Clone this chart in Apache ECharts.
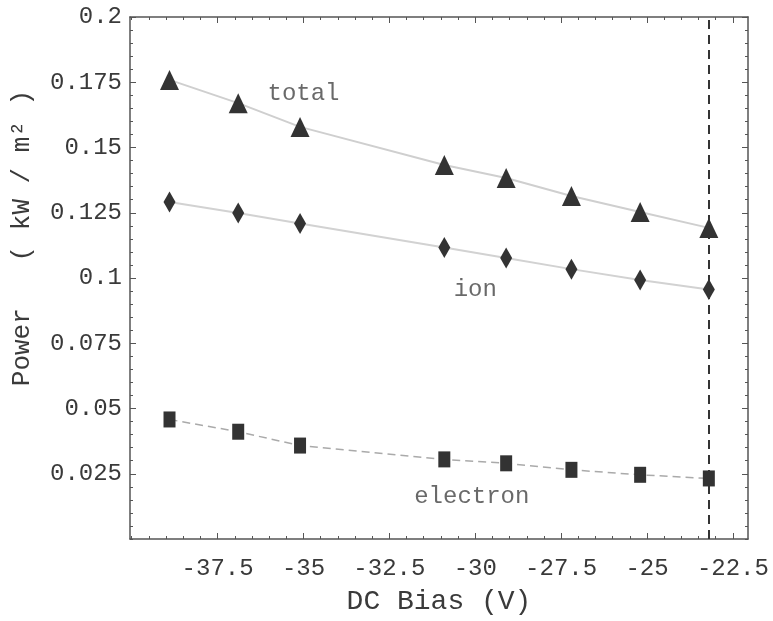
<!DOCTYPE html>
<html>
<head>
<meta charset="utf-8">
<title>Power vs DC Bias</title>
<script src="https://cdn.jsdelivr.net/npm/echarts@6/dist/echarts.min.js"></script>
<style>
  html, body { margin: 0; padding: 0; background: #fff; }
  #chart { width: 773px; height: 621px; }
</style>
</head>
<body>
<div id="chart"></div>
<script>
// DC bias (V) of each measurement
var biasValues = [-38.9, -36.9, -35.1, -30.9, -29.1, -27.2, -25.2, -23.2]
// power (kW/m^2)
var totalPower = [0.1759, 0.1670, 0.1579, 0.1433, 0.1383, 0.1314, 0.1253, 0.1192]
var ionPower = [0.1291, 0.1249, 0.1209, 0.1117, 0.1077, 0.1034, 0.0992, 0.0956]
var electronPower = [0.0458, 0.0411, 0.0358, 0.0305, 0.0290, 0.0265, 0.0246, 0.0232]

// axis ticks
var xTicks = [-37.5, -35, -32.5, -30, -27.5, -25, -22.5]
var yTicks = [0.025, 0.05, 0.075, 0.1, 0.125, 0.15, 0.175, 0.2]
var xMinorStep = 0.5
var yMinorStep = 0.005

// floating potential marker
var floatingBias = -23.2

// curve labels [x, y, text]
var curveLabels = [
  [-35.0, 0.1705, 'total'],
  [-30.0, 0.0954, 'ion'],
  [-30.1, 0.0163, 'electron']
]

var xMin = -40.05, xMax = -22.06
var yMin = 0, yMax = 0.2

function minorTicks(min, max, step, major) {
  var out = []
  var start = Math.ceil(min / step - 1e-9)
  var end = Math.floor(max / step + 1e-9)
  for (var i = start; i <= end; i++) {
    var v = +(i * step).toFixed(4)
    var isMajor = major.some(function (m) { return Math.abs(m - v) < 1e-9 })
    if (!isMajor) out.push(v)
  }
  return out
}

function pairs(ys) {
  return biasValues.map(function (x, i) { return [x, ys[i]] })
}

var FONT = 'Liberation Mono'
var INK = '#3a3a3a'
var FRAME = '#555'

function frameAxis(pos, isX, ticks, len, withLine, withLabel, extra) {
  var ax = {
    type: 'value',
    position: pos,
    min: isX ? xMin : yMin,
    max: isX ? xMax : yMax,
    splitLine: { show: false },
    axisLine: { show: withLine, onZero: false, lineStyle: { color: FRAME, width: 1.5 } },
    axisTick: { show: true, inside: true, length: len, customValues: ticks, lineStyle: { color: FRAME, width: 1 } },
    axisLabel: { show: false }
  }
  if (withLabel) {
    ax.axisLabel = {
      show: true,
      customValues: ticks,
      fontFamily: FONT,
      fontSize: 24,
      color: INK,
      margin: isX ? 18 : 8
    }
  }
  if (extra) Object.assign(ax, extra)
  return ax
}

var xMinor = minorTicks(xMin, xMax, xMinorStep, xTicks)
var yMinor = minorTicks(yMin, yMax, yMinorStep, yTicks)

var myChart = echarts.init(document.getElementById('chart'))

var option = {
  backgroundColor: '#fff',
  animation: false,
  grid: { left: 130, right: 25, top: 17, bottom: 82 },
  xAxis: [
    frameAxis('bottom', true, xTicks, 6, true, true, {
      name: 'DC Bias (V)',
      nameLocation: 'middle',
      nameGap: 49,
      nameTextStyle: { fontFamily: FONT, fontSize: 28, color: INK }
    }),
    frameAxis('bottom', true, xMinor, 3, false, false),
    frameAxis('top', true, xTicks, 6, true, false),
    frameAxis('top', true, xMinor, 3, false, false)
  ],
  yAxis: [
    frameAxis('left', false, yTicks, 6, true, true),
    frameAxis('left', false, yMinor, 3, false, false),
    frameAxis('right', false, yTicks, 6, true, false),
    frameAxis('right', false, yMinor, 3, false, false)
  ],
  graphic: [
    {
      type: 'text',
      x: 22,
      y: 238,
      rotation: Math.PI / 2,
      style: {
        text: 'Power   ( kW / m² )',
        fontFamily: FONT,
        fontSize: 26,
        fill: INK,
        textAlign: 'center',
        textVerticalAlign: 'middle'
      }
    }
  ],
  series: [
    {
      name: 'total',
      type: 'line',
      data: pairs(totalPower),
      symbol: 'triangle',
      symbolSize: [19, 20],
      itemStyle: { color: '#333' },
      lineStyle: { color: '#cfcfcf', width: 2 },
      markLine: {
        silent: true,
        symbol: 'none',
        label: { show: false },
        lineStyle: { color: '#333', type: [9, 6], width: 2 },
        data: [{ xAxis: floatingBias }]
      }
    },
    {
      name: 'ion',
      type: 'line',
      data: pairs(ionPower),
      symbol: 'diamond',
      symbolSize: [12, 21],
      itemStyle: { color: '#333' },
      lineStyle: { color: '#d2d2d2', width: 2 }
    },
    {
      name: 'electron',
      type: 'line',
      data: pairs(electronPower),
      symbol: 'rect',
      symbolSize: [12, 16],
      itemStyle: { color: '#333' },
      lineStyle: { color: '#aaa', width: 1.5, type: [8, 5] }
    },
    {
      name: 'labels',
      type: 'scatter',
      data: curveLabels,
      symbolSize: 0,
      silent: true,
      label: {
        show: true,
        position: 'inside',
        formatter: function (p) { return p.value[2] },
        fontFamily: FONT,
        fontSize: 24,
        color: '#444'
      }
    }
  ]
}

myChart.setOption(option)
</script>
</body>
</html>
